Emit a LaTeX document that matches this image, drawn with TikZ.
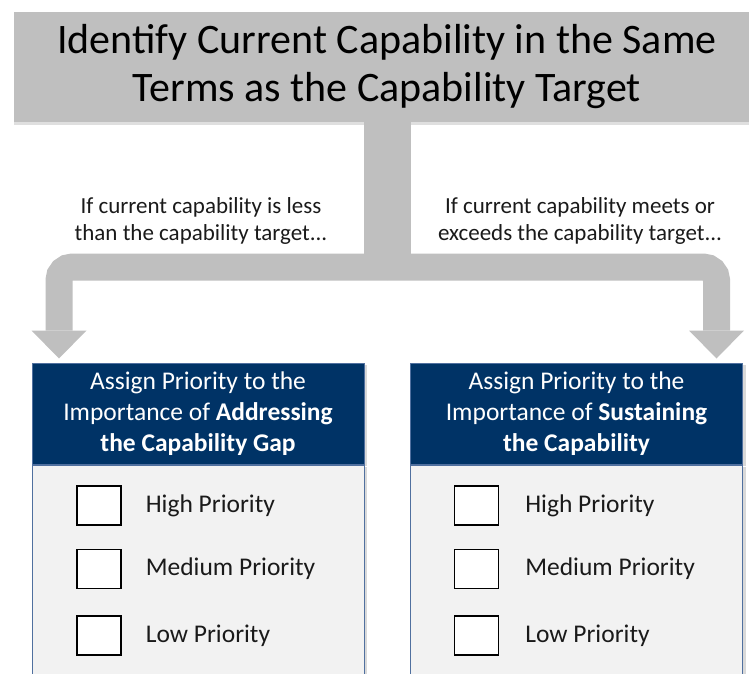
\documentclass[tikz,border=0pt]{standalone}
\usepackage{fontspec}
\setmainfont{Carlito}
\usetikzlibrary{positioning,arrows.meta,shadows}

\definecolor{capgray}{HTML}{BFBFBF}
\definecolor{capnavy}{HTML}{003366}
\definecolor{capbody}{HTML}{F2F2F2}
\definecolor{capedge}{HTML}{50709F}
\definecolor{captext}{HTML}{1A1A1A}

\tikzset{
  titlebox/.style={fill=capgray, minimum width=746pt, minimum height=110pt,
    inner sep=0pt, align=center, font=\fontsize{42}{48}\selectfont,
    drop shadow={shadow xshift=0pt, shadow yshift=-3pt, opacity=0.25}},
  stembox/.style={fill=capgray, minimum width=47pt, minimum height=158pt, inner sep=0pt},
  branch/.style={draw=capgray, line width=27pt, rounded corners=13pt,
    -{Triangle[width=55pt, length=28pt, line width=0pt]}},
  sidetext/.style={align=center, text=captext, font=\fontsize{23}{27}\selectfont},
  headbox/.style={fill=capnavy, draw=capedge, line width=1pt, text=white,
    minimum width=332pt, minimum height=101pt, inner sep=0pt, align=center,
    font=\fontsize{25.5}{31}\selectfont,
    drop shadow={shadow xshift=3pt, shadow yshift=-2pt, opacity=0.3}},
  bodybox/.style={fill=capbody, draw=capedge, line width=1pt,
    minimum width=332pt, minimum height=230pt, inner sep=0pt,
    drop shadow={shadow xshift=3pt, shadow yshift=-2pt, opacity=0.3}},
  checkbox/.style={fill=white, draw=black, line width=1.3pt,
    minimum width=44pt, minimum height=39pt, inner sep=0pt},
  itemtext/.style={inner sep=0pt, text=captext, font=\fontsize{25.5}{30}\selectfont}
}

\begin{document}
\begin{tikzpicture}[x=1pt, y=-1pt]
    \useasboundingbox (0,0) rectangle (749,674);

    % Title box and its stem
    \node[titlebox] (title) at (387,67) {Identify Current Capability in the Same\\Terms as the Capability Target};
    \node[stembox, anchor=north] (stem) at (title.south) {};
    \coordinate (fork) at ([yshift=13.5pt]stem.south);

    % Conditions on each side of the stem
    \node[sidetext] (lesstext) at (201,220.5) {If current capability is less\\than the capability target...};
    \node[sidetext] (meetstext) at (580,220.5) {If current capability meets or\\exceeds the capability target...};

    % Left box: addressing the gap
    \node[headbox] (lhead) at (198,413.5) {Assign Priority to the\\Importance of \textbf{Addressing}\\\textbf{the Capability Gap}};
    \node[bodybox, below=0pt of lhead] (lbody) {};

    % Right box: sustaining the capability
    \node[headbox] (rhead) at (576.5,413.5) {Assign Priority to the\\Importance of \textbf{Sustaining}\\\textbf{the Capability}};
    \node[bodybox, below=0pt of rhead] (rbody) {};

    % Branches from the stem to the two boxes
    \draw[branch] (fork) -| ([xshift=27.5pt, yshift=4pt]lhead.north west);
    \draw[branch] (fork) -| ([xshift=-26.5pt, yshift=4pt]rhead.north east);

    % Left check boxes
    \node[checkbox] (lhigh) at (99,505.5) {};
    \node[checkbox] (lmed) at (99,569) {};
    \node[checkbox] (llow) at (99,635.5) {};
    \node[itemtext, right=24pt of lhigh] (lhighlbl) {High Priority};
    \node[itemtext, right=24pt of lmed] (lmedlbl) {Medium Priority};
    \node[itemtext, right=24pt of llow] (llowlbl) {Low Priority};

    % Right check boxes
    \node[checkbox] (rhigh) at (476.5,505.5) {};
    \node[checkbox] (rmed) at (476.5,569) {};
    \node[checkbox] (rlow) at (476.5,635.5) {};
    \node[itemtext, right=26pt of rhigh] (rhighlbl) {High Priority};
    \node[itemtext, right=26pt of rmed] (rmedlbl) {Medium Priority};
    \node[itemtext, right=26pt of rlow] (rlowlbl) {Low Priority};
\end{tikzpicture}
\end{document}
